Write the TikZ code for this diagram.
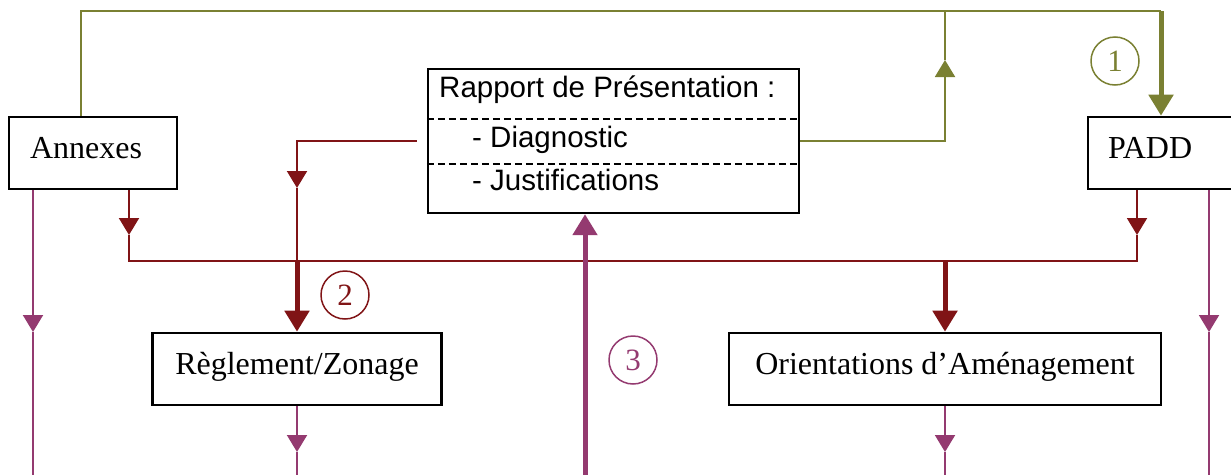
\documentclass[tikz,border=0pt]{standalone}
\usepackage{fontspec}
\setmainfont{Liberation Serif}
\newfontfamily\arialfont{Liberation Sans}
\usetikzlibrary{arrows.meta,positioning}
\definecolor{plolive}{RGB}{122,128,50}
\definecolor{pldarkred}{RGB}{128,20,22}
\definecolor{plmagenta}{RGB}{148,58,112}
\tikzstyle{doc} = [draw, line width=2.6pt, rectangle, minimum height=72pt, font=\fontsize{32}{36}\selectfont, text height=22pt, text depth=12pt]
\tikzstyle{rptext} = [anchor=base west, inner sep=0pt, font=\arialfont\fontsize{29.5}{32}\selectfont]
\tikzstyle{num} = [draw, circle, line width=1.5pt, minimum size=48pt, inner sep=0pt, font=\fontsize{31}{32}\selectfont]
\tikzstyle{sepline} = [line width=1.5pt, dash pattern=on 7pt off 4pt]
\tikzstyle{link} = [line width=2pt]
\tikzstyle{biglink} = [line width=5pt]
\tikzstyle{arr} = [-{Triangle[width=20pt,length=17pt]}]
\tikzstyle{bigarr} = [-{Triangle[width=24pt,length=21pt]}]

\begin{document}
\begin{tikzpicture}[x=1pt, y=-1pt]
\useasboundingbox (0,0) rectangle (1231,474);
\clip (0,0) rectangle (1231,474);
% Documents
\node[doc, minimum width=168pt, text width=126pt, inner xsep=21pt, align=left] (ann) at (93,153) {Annexes};
\node[doc, minimum width=212pt, text width=172pt, inner xsep=20pt, align=left] (padd) at (1194,153) {PADD};
\node[doc, minimum width=289pt] (regl) at (297,369) {Règlement/Zonage};
\node[doc, minimum width=432pt] (orient) at (945,369) {Orientations d’Aménagement};
\node[draw, line width=2.4pt, minimum width=371pt, minimum height=144pt] (rapport) at (613.5,141) {};
\node[rptext] (rtitle) at (439,97) {Rapport de Présentation :};
\node[rptext] (rdiag) at (472,147) {- Diagnostic};
\node[rptext] (rjust) at (472,190) {- Justifications};
\coordinate (sep1) at (0,119);
\coordinate (sep2) at (0,164);
\draw[sepline] (rapport.west |- sep1) -- (rapport.east |- sep1);
\draw[sepline] (rapport.west |- sep2) -- (rapport.east |- sep2);
% Step 1
\coordinate (topL) at (81,11);
\coordinate (topM) at (945,11);
\coordinate (topR) at (1161,11);
\coordinate (oliveTip) at (945,60);
\draw[link, plolive] (ann.north -| topL) -- (topL) -- (topR);
\draw[biglink, bigarr, plolive] (topR) -- (padd.north -| topR);
\draw[link, arr, plolive] (rapport.east) -- (rapport.east -| topM) -- (oliveTip);
\draw[link, plolive] (oliveTip) -- (topM);
\node[num, plolive] (n1) at (1115,61) {1};
% Step 2
\coordinate (busL) at (129,261);
\coordinate (busR) at (1137,261);
\coordinate (busG) at (297,261);
\coordinate (busO) at (945,261);
\coordinate (annTip) at (129,235);
\coordinate (paddTip) at (1137,235);
\coordinate (diagL) at (297,141);
\coordinate (diagTip) at (297,188);
\draw[link, arr, pldarkred] (ann.south -| busL) -- (annTip);
\draw[link, arr, pldarkred] (padd.south -| busR) -- (paddTip);
\draw[link, pldarkred] (annTip) -- (busL) -- (busR) -- (paddTip);
\draw[link, arr, pldarkred] ([xshift=-10pt]rapport.west) -- (diagL) -- (diagTip);
\draw[link, pldarkred] (diagTip) -- (busG);
\draw[biglink, bigarr, pldarkred] (busG) -- (regl.north);
\draw[biglink, bigarr, pldarkred] (busO) -- (orient.north);
\node[num, pldarkred] (n2) at (345,295) {2};
% Step 3
\foreach \src/\x/\tip in {ann/33/332, padd/1209/332, regl/297/452, orient/945/452} {
  \coordinate (drop) at (\x,\tip);
  \coordinate (foot) at (\x,480);
  \draw[link, arr, plmagenta] (\src.south -| drop) -- (drop);
  \draw[link, plmagenta] (drop) -- (foot);
}
\coordinate (upFoot) at (585,480);
\draw[biglink, bigarr, plmagenta] (upFoot) -- (rapport.south -| upFoot);
\node[num, plmagenta] (n3) at (633,360) {3};
\end{tikzpicture}
\end{document}
